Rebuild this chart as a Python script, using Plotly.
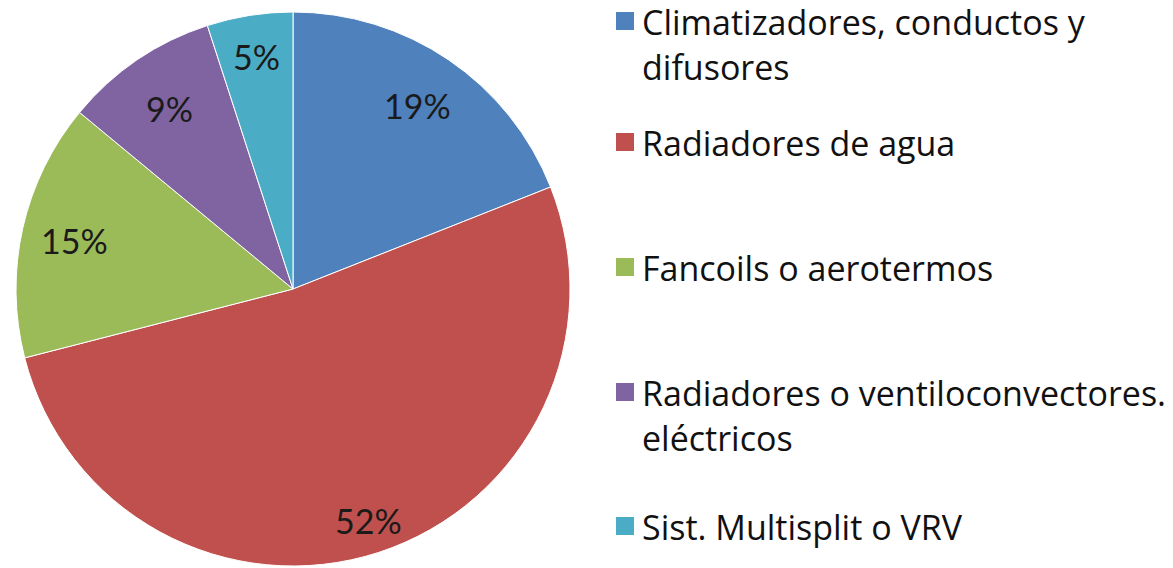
import math
import plotly.graph_objects as go

categories = [
    "Climatizadores, conductos y<br>difusores",
    "Radiadores de agua",
    "Fancoils o aerotermos",
    "Radiadores o ventiloconvectores.<br>eléctricos",
    "Sist. Multisplit o VRV",
]
values = [19, 52, 15, 9, 5]
colors = ["#4F81BD", "#C0504D", "#9BBB59", "#8064A2", "#4BACC6"]

# style: radial placement of the percentage labels (fraction of radius)
label_radius = [0.80, 0.88, 0.81, 0.79, 0.85]

W, H = 1173, 568
FONT = "Open Sans"
LABEL_FONT = "Lato"


def fx(x):
    return x / W


def fy(y):
    return 1 - y / H


# pie geometry on screen
CX, CY, R = 293, 289, 277

fig = go.Figure(go.Pie(
    labels=categories,
    values=values,
    sort=False,
    direction="clockwise",
    rotation=0,
    marker=dict(colors=colors, line=dict(color="white", width=1)),
    textinfo="none",
    showlegend=False,
    hoverinfo="label+percent",
    domain=dict(x=[fx(CX - R), fx(CX + R)], y=[fy(CY + R), fy(CY - R)]),
))

# percentage labels, placed at the mid-angle of each slice
total = sum(values)
cum = 0
for v, rf in zip(values, label_radius):
    mid = (cum + v / 2) / total * 2 * math.pi
    cum += v
    x = CX + rf * R * math.sin(mid)
    y = CY - rf * R * math.cos(mid)
    fig.add_annotation(
        x=fx(x), y=fy(y), xref="paper", yref="paper",
        xanchor="center", yanchor="middle", showarrow=False,
        text=f"{v}%", font=dict(family=LABEL_FONT, size=34, color="#1a1a1a"),
    )

# custom legend
legend_line1_y = [22, 143, 268, 393, 527]
LINE_GAP = 45
for name, col, y0 in zip(categories, colors, legend_line1_y):
    lines = name.split("<br>")
    my = y0 - 1
    fig.add_shape(
        type="rect", xref="paper", yref="paper",
        x0=fx(616), x1=fx(634), y0=fy(my + 9), y1=fy(my - 9),
        fillcolor=col, line=dict(width=0),
    )
    for i, ln in enumerate(lines):
        fig.add_annotation(
            x=fx(640), y=fy(y0 + i * LINE_GAP), xref="paper", yref="paper",
            xanchor="left", yanchor="middle", align="left", showarrow=False,
            text=ln, font=dict(family=FONT, size=34, color="#111111"),
        )

fig.update_layout(
    width=W, height=H,
    margin=dict(l=0, r=0, t=0, b=0),
    paper_bgcolor="white",
    plot_bgcolor="white",
)
fig.write_html(
    "out.html",
    config={"displayModeBar": False},
    post_script="document.body.style.margin='0';",
)
